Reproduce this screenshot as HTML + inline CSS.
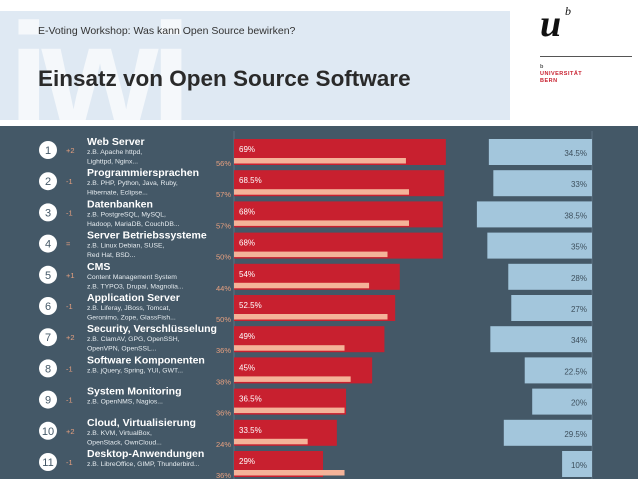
<!DOCTYPE html>
<html><head><meta charset="utf-8">
<style>
body{margin:0;width:638px;height:479px;overflow:hidden;background:#fff;font-family:"Liberation Sans",sans-serif;position:relative}
#hdr{position:absolute;left:0;top:11px;width:510px;height:109px;background:#dfe9f3;overflow:hidden}
#wm{position:absolute;left:8px;top:-10px;font:bold 150px "Liberation Sans",sans-serif;color:#f5f8fb;letter-spacing:-8px;line-height:150px}
#sub{position:absolute;left:38px;top:14px;font-size:10.5px;color:#333}
#title{position:absolute;left:38px;top:55px;font-size:22.5px;font-weight:bold;color:#2a2a2a}
#logo-u{position:absolute;left:540px;top:2px;font:italic bold 38px "Liberation Serif",serif;color:#111}
#logo-b{position:absolute;left:565px;top:4px;font:italic 12px "Liberation Serif",serif;color:#111}
#logo-line{position:absolute;left:540px;top:56px;width:92px;height:1px;background:#555}
#logo-t{position:absolute;left:540px;top:64px;font:bold 5.5px "Liberation Sans",sans-serif;color:#c8202f;line-height:7px;letter-spacing:.5px}
svg{position:absolute;left:0;top:126px}
</style></head><body>
<div id="hdr"><div id="wm">iwi</div>
<div id="sub">E-Voting Workshop: Was kann Open Source bewirken?</div>
<div id="title">Einsatz von Open Source Software</div></div>
<div id="logo-u">u</div><div id="logo-b">b</div>
<div id="logo-line"></div>
<div id="logo-t"><span style="color:#555">b</span><br>UNIVERSITÄT<br>BERN</div>
<svg id="chart" width="638" height="353"></svg>
<script>
const categories=["Web Server","Programmiersprachen","Datenbanken","Server Betriebssysteme","CMS","Application Server","Security, Verschlüsselung","Software Komponenten","System Monitoring","Cloud, Virtualisierung","Desktop-Anwendungen"];
const subs=[["z.B. Apache httpd,","Lighttpd, Nginx..."],["z.B. PHP, Python, Java, Ruby,","Hibernate, Eclipse..."],["z.B. PostgreSQL, MySQL,","Hadoop, MariaDB, CouchDB..."],["z.B. Linux Debian, SUSE,","Red Hat, BSD..."],["Content Management System","z.B. TYPO3, Drupal, Magnolia..."],["z.B. Liferay, JBoss, Tomcat,","Geronimo, Zope, GlassFish..."],["z.B. ClamAV, GPG, OpenSSH,","OpenVPN, OpenSSL..."],["z.B. jQuery, Spring, YUI, GWT..."],["z.B. OpenNMS, Nagios..."],["z.B. KVM, VirtualBox,","OpenStack, OwnCloud..."],["z.B. LibreOffice, GIMP, Thunderbird..."]];
const changes=["+2","-1","-1","=","+1","-1","+2","-1","-1","+2","-1"];
const current=[69,68.5,68,68,54,52.5,49,45,36.5,33.5,29];
const previous=[56,57,57,50,44,50,36,38,36,24,36];
const rightVals=[34.5,33,38.5,35,28,27,34,22.5,20,29.5,10];
const NS="http://www.w3.org/2000/svg";
const svg=document.getElementById('chart');
function mk(t,a,txt){const e=document.createElementNS(NS,t);for(const k in a)e.setAttribute(k,a[k]);if(txt!=null)e.textContent=txt;svg.appendChild(e);return e;}
const bg=mk('rect',{x:0,y:0,width:638,height:353,fill:'#445867'});

const x0=234, xs=v=>v*3.07;
const xr=592, xrs=v=>v*2.99;
const rowY=i=>13+i*31.2;
const ax=mk('line',{x1:x0,y1:5,x2:x0,y2:353,stroke:'#5d7080','stroke-width':1});

const ax2=mk('line',{x1:xr,y1:5,x2:xr,y2:353,stroke:'#5d7080','stroke-width':1});

const F='"Liberation Sans",sans-serif';
categories.forEach((c,i)=>{
 const y=rowY(i);
 const circ=mk('circle',{cx:48,cy:y+11,r:9,fill:'#fff'});
 
 const rn=mk('text',{x:48,y:y+15,'text-anchor':'middle','font-family':F,'font-size':11,fill:'#445867'},String(i+1));
 
 const ch=mk('text',{x:66,y:y+14,'font-family':F,'font-size':7.5,fill:'#e8a07f'},changes[i]);
 
 const ct=mk('text',{x:87,y:y+6,'font-family':F,'font-size':10.5,'font-weight':'bold',fill:'#fff'},c);
 
 subs[i].forEach((s,j)=>{const st=mk('text',{x:87,y:y+15+j*9.5,'font-family':F,'font-size':6.8,fill:'#e6ecf0'},s);
  });
 const rb=mk('rect',{x:x0,y:y,width:xs(current[i]),height:26,fill:'#c8202f'});
 
 const pb=mk('rect',{x:x0,y:y+19,width:xs(previous[i]),height:5.5,fill:'#f4b399'});
 
 const cl=mk('text',{x:x0+5,y:y+13,'font-family':F,'font-size':8,fill:'#fff'},current[i]+'%');
 
 const pl=mk('text',{x:x0-3,y:y+27,'text-anchor':'end','font-family':F,'font-size':7.5,fill:'#e8a07f'},previous[i]+'%');
 
 const bb=mk('rect',{x:xr-xrs(rightVals[i]),y:y,width:xrs(rightVals[i]),height:26,fill:'#a3c6dc'});
 
 const bl=mk('text',{x:xr-5,y:y+17,'text-anchor':'end','font-family':F,'font-size':8,fill:'#3d4f5c'},rightVals[i]+'%');
 
});
</script>
</body></html>
